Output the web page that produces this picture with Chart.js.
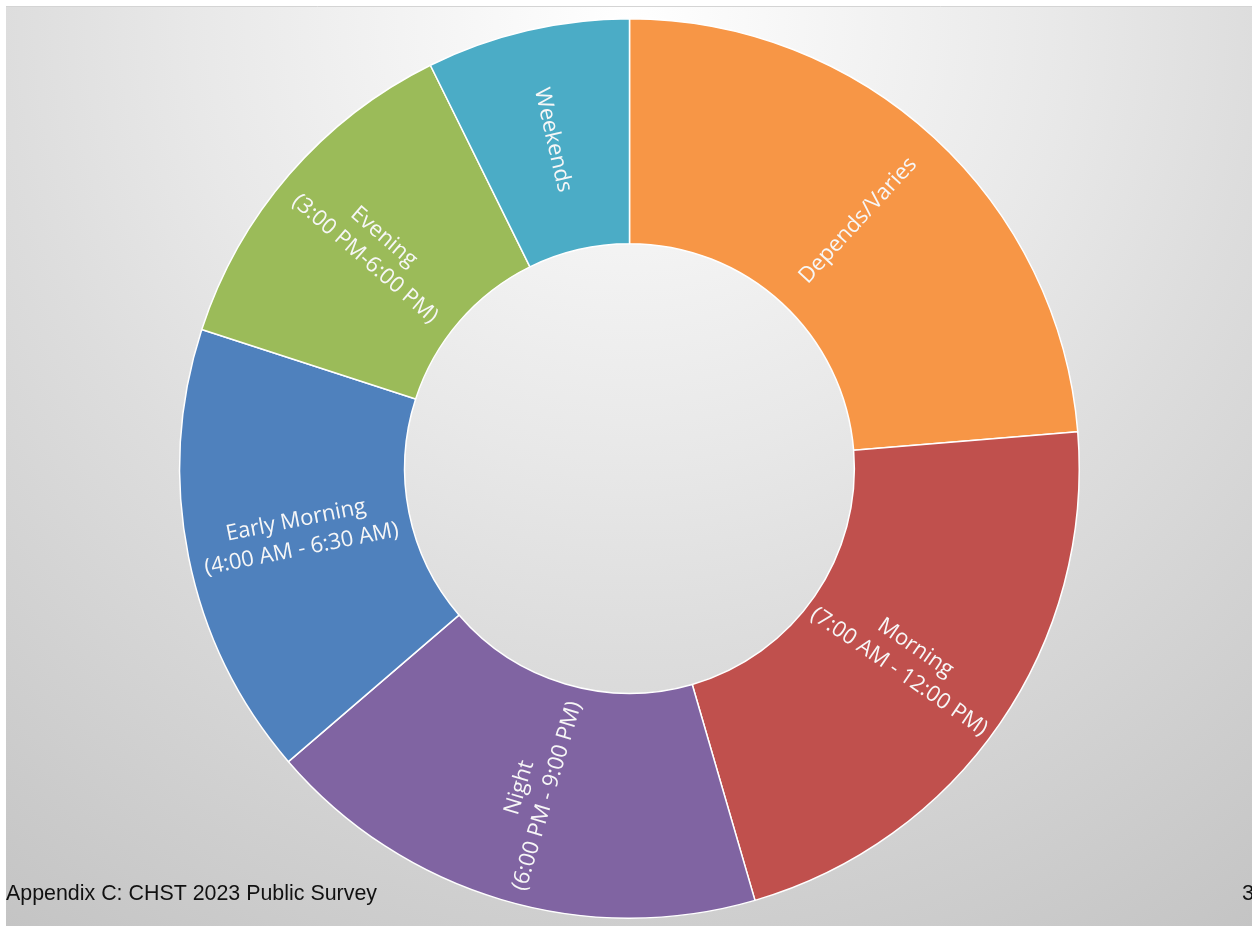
<!DOCTYPE html>
<html>
<head>
<meta charset="utf-8">
<title>Appendix C: CHST 2023 Public Survey</title>
<script src="https://cdn.jsdelivr.net/npm/chart.js@4.4.1/dist/chart.umd.min.js"></script>
<style>
  html, body { margin: 0; padding: 0; background: #ffffff; overflow: hidden; }
  #wrap { position: relative; width: 1252px; height: 926px; }
  canvas { position: absolute; left: 0; top: 0; }
</style>
</head>
<body>
<div id="wrap"><canvas id="chart" width="1252" height="926"></canvas></div>
<script>
// Survey answers: share of respondents (%) for each time slot
const categories = [
  ['Depends/Varies'],
  ['Morning', '(7:00 AM - 12:00 PM)'],
  ['Night', '(6:00 PM - 9:00 PM)'],
  ['Early Morning', '(4:00 AM - 6:30 AM)'],
  ['Evening', '(3:00 PM-6:00 PM)'],
  ['Weekends']
];
const shares = [23.7, 21.8, 18.2, 16.3, 12.7, 7.3];
const sliceColors = ['#F79646', '#C0504D', '#8064A2', '#4F81BD', '#9BBB59', '#4BACC6'];
const footerText = 'Appendix C: CHST 2023 Public Survey';
const pageNumber = '3';

// Slide background: soft radial gray with the footer line
const slideBackground = {
  id: 'slideBackground',
  beforeDraw(chart) {
    const ctx = chart.ctx;
    ctx.save();
    ctx.fillStyle = '#ffffff';
    ctx.fillRect(0, 0, chart.width, chart.height);
    const g = ctx.createRadialGradient(630, 20, 0, 630, 20, 1100);
    g.addColorStop(0, '#ffffff');
    g.addColorStop(0.4, '#e8e8e8');
    g.addColorStop(0.57, '#dddddd');
    g.addColorStop(1, '#c4c4c4');
    ctx.fillStyle = g;
    ctx.fillRect(6, 6, chart.width - 6, chart.height - 6);
    ctx.strokeStyle = '#d4d4d4';
    ctx.lineWidth = 1;
    ctx.beginPath();
    ctx.moveTo(6, 6.5);
    ctx.lineTo(chart.width, 6.5);
    ctx.stroke();
    ctx.restore();
  },
  afterDraw(chart) {
    const ctx = chart.ctx;
    ctx.save();
    ctx.fillStyle = '#111111';
    ctx.font = '22px "Liberation Sans", Arial, sans-serif';
    ctx.textBaseline = 'alphabetic';
    ctx.textAlign = 'left';
    // footer is set slightly condensed so it spans the same width as the slide text box
    const w = ctx.measureText(footerText).width;
    const sx = 371 / w;
    ctx.save();
    ctx.translate(6, 900);
    ctx.scale(sx, 1);
    ctx.fillText(footerText, 0, 0);
    ctx.restore();
    ctx.fillText(pageNumber, 1242, 900);
    ctx.restore();
  }
};

// Category names written along the radius of each slice
const radialLabels = {
  id: 'radialLabels',
  afterDatasetsDraw(chart) {
    const ctx = chart.ctx;
    const meta = chart.getDatasetMeta(0);
    ctx.save();
    ctx.fillStyle = '#f7f7f7';
    ctx.font = '22px "Open Sans", sans-serif';
    ctx.textAlign = 'center';
    ctx.textBaseline = 'middle';
    const lineH = 29;
    meta.data.forEach((arc, i) => {
      const p = arc.getProps(['x', 'y', 'startAngle', 'endAngle', 'innerRadius', 'outerRadius'], true);
      const mid = (p.startAngle + p.endAngle) / 2;
      const r = (p.innerRadius + p.outerRadius) / 2;
      const cx = p.x + Math.cos(mid) * r;
      const cy = p.y + Math.sin(mid) * r;
      let rot = mid;
      while (rot > Math.PI / 2) rot -= Math.PI;
      while (rot < -Math.PI / 2) rot += Math.PI;
      const lines = categories[i];
      ctx.save();
      ctx.translate(cx, cy);
      ctx.rotate(rot);
      lines.forEach((t, k) => {
        ctx.fillText(t, 0, (k - (lines.length - 1) / 2) * lineH);
      });
      ctx.restore();
    });
    ctx.restore();
  }
};

new Chart(document.getElementById('chart'), {
  type: 'doughnut',
  data: {
    labels: categories.map(l => l.join(' ')),
    datasets: [{
      data: shares,
      backgroundColor: sliceColors,
      borderColor: '#ffffff',
      borderWidth: 1.5,
      hoverOffset: 0
    }]
  },
  options: {
    responsive: false,
    devicePixelRatio: 1,
    animation: false,
    cutout: '50%',
    layout: { padding: { left: 179, right: 172, top: 18, bottom: 7 } },
    plugins: {
      legend: { display: false },
      tooltip: { enabled: false },
      title: { display: false }
    }
  },
  plugins: [slideBackground, radialLabels]
});
</script>
</body>
</html>
